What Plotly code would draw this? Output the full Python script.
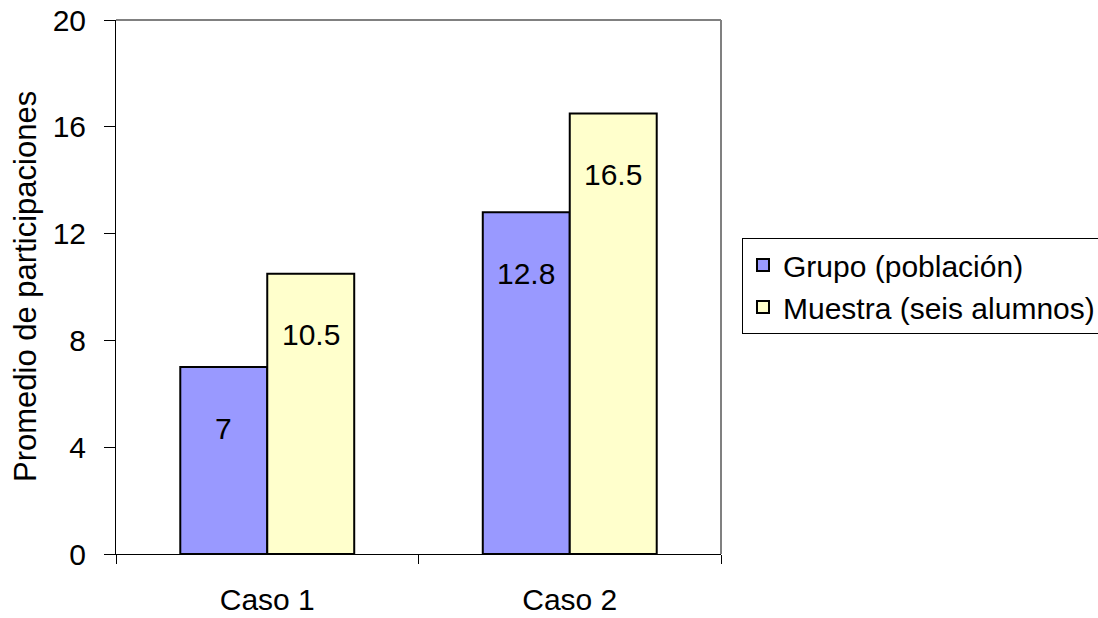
import plotly.graph_objects as go

categories = ["Caso 1", "Caso 2"]
grupo = [7, 12.8]
muestra = [10.5, 16.5]
grupo_labels = ["7", "12.8"]
muestra_labels = ["10.5", "16.5"]
y_ticks = [0, 4, 8, 12, 16, 20]

FONT = "Liberation Sans, Arial, sans-serif"
FS = 30

fig = go.Figure()
fig.add_trace(go.Bar(
    x=categories, y=grupo, name="Grupo (población)",
    marker=dict(color="#9999FF", line=dict(color="black", width=2)),
))
fig.add_trace(go.Bar(
    x=categories, y=muestra, name="Muestra (seis alumnos)",
    marker=dict(color="#FFFFCC", line=dict(color="black", width=2)),
))

# value labels placed a fixed distance below each bar top
bar_half = 43.5
for cat, v, t in zip(categories, grupo, grupo_labels):
    fig.add_annotation(x=cat, y=v, xref="x", yref="y", text=t, showarrow=False,
                       xshift=-bar_half, yshift=-61, yanchor="middle",
                       font=dict(family=FONT, size=FS, color="black"))
for cat, v, t in zip(categories, muestra, muestra_labels):
    fig.add_annotation(x=cat, y=v, xref="x", yref="y", text=t, showarrow=False,
                       xshift=bar_half, yshift=-61, yanchor="middle",
                       font=dict(family=FONT, size=FS, color="black"))

# y-axis title
fig.add_annotation(x=-0.1504, y=0.5, xref="paper", yref="paper",
                   text="Promedio de participaciones", textangle=-90,
                   showarrow=False, xanchor="center", yanchor="middle",
                   font=dict(family=FONT, size=31, color="black"))

# gray frame on top and right of plot area
fig.add_shape(type="line", xref="paper", yref="paper", x0=0, x1=1, y0=1, y1=1,
              line=dict(color="#808080", width=2))
fig.add_shape(type="line", xref="paper", yref="paper", x0=1, x1=1, y0=0, y1=1,
              line=dict(color="#808080", width=2))

fig.update_layout(
    width=1098, height=618,
    margin=dict(l=116, r=377, t=20, b=64, autoexpand=False),
    paper_bgcolor="white", plot_bgcolor="white",
    barmode="group", bargap=0.425, bargroupgap=0,
    font=dict(family=FONT, size=FS, color="black"),
    showlegend=True,
    legend=dict(
        x=1.0347, y=0.5918, xanchor="left", yanchor="top",
        bordercolor="black", borderwidth=1, bgcolor="white",
        font=dict(family=FONT, size=FS, color="black"),
        itemwidth=30,
    ),
    xaxis=dict(
        showline=True, linecolor="black", linewidth=1,
        ticks="outside", ticklen=9, tickcolor="black", tickson="boundaries",
        showgrid=False, ticklabelstandoff=19,
        tickfont=dict(family=FONT, size=FS, color="black"),
    ),
    yaxis=dict(
        range=[0, 20], tickvals=y_ticks, ticktext=[str(v) for v in y_ticks],
        showline=True, linecolor="black", linewidth=1,
        ticks="outside", ticklen=11, tickcolor="black",
        showgrid=False, zeroline=False, ticklabelstandoff=12,
        tickfont=dict(family=FONT, size=FS, color="black"),
    ),
)

fig.write_html("out.html")
